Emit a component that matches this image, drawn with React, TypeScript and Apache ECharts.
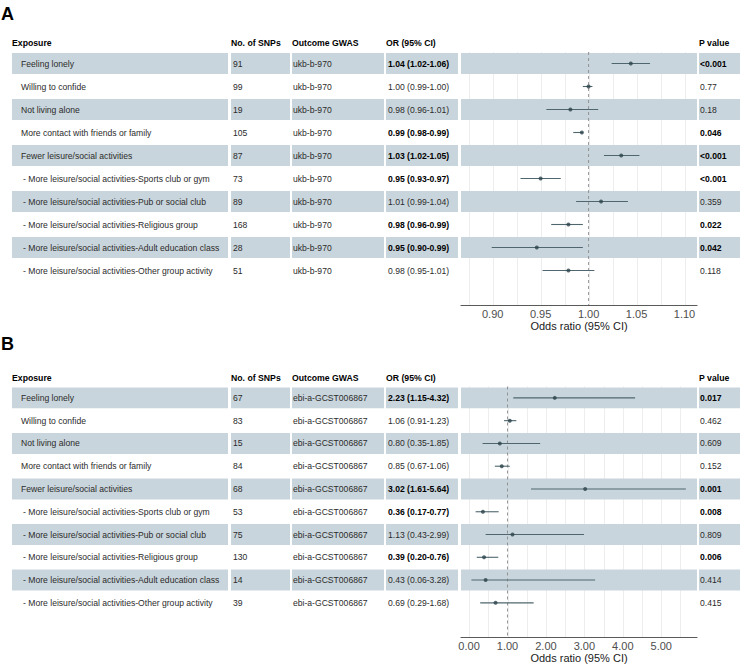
import React, { useEffect, useRef } from "react";
import * as echarts from "echarts";

// ---------- data ----------
const exposures = [
  "Feeling lonely",
  "Willing to confide",
  "Not living alone",
  "More contact with friends or family",
  "Fewer leisure/social activities",
  "- More leisure/social activities-Sports club or gym",
  "- More leisure/social activities-Pub or social club",
  "- More leisure/social activities-Religious group",
  "- More leisure/social activities-Adult education class",
  "- More leisure/social activities-Other group activity",
];
const headers = ["Exposure", "No. of SNPs", "Outcome GWAS", "OR (95% CI)", "P value"];

const snpsA = [91, 99, 19, 105, 87, 73, 89, 168, 28, 51];
const gwasA = "ukb-b-970";
const orA = [1.044, 1.0, 0.981, 0.993, 1.034, 0.95, 1.013, 0.979, 0.946, 0.979];
const lowA = [1.024, 0.994, 0.956, 0.984, 1.016, 0.929, 0.987, 0.961, 0.899, 0.952];
const highA = [1.064, 1.004, 1.01, 0.994, 1.053, 0.971, 1.041, 0.994, 0.994, 1.006];
const pA = ["<0.001", "0.77", "0.18", "0.046", "<0.001", "<0.001", "0.359", "0.022", "0.042", "0.118"];
const sigA = [true, false, false, true, true, true, false, true, true, false];
const gridTicksA = [0.875, 0.9, 0.925, 0.95, 0.975, 1.0, 1.025, 1.05, 1.075, 1.1];

const snpsB = [67, 83, 15, 84, 68, 53, 75, 130, 14, 39];
const gwasB = "ebi-a-GCST006867";
const orB = [2.23, 1.06, 0.8, 0.85, 3.02, 0.36, 1.13, 0.39, 0.43, 0.69];
const lowB = [1.15, 0.91, 0.35, 0.67, 1.61, 0.17, 0.43, 0.2, 0.06, 0.29];
const highB = [4.32, 1.23, 1.85, 1.06, 5.64, 0.77, 2.99, 0.76, 3.28, 1.68];
const pB = ["0.017", "0.462", "0.609", "0.152", "0.001", "0.008", "0.809", "0.006", "0.414", "0.415"];
const sigB = [true, false, false, false, true, true, false, true, false, false];
const gridTicksB = [0, 0.5, 1, 1.5, 2, 2.5, 3, 3.5, 4, 4.5, 5, 5.5];

// ---------- styling / layout ----------
const FONT = "'Liberation Sans', Arial, Helvetica, sans-serif";
const BAND = "#c9d5dc";
const TEXT = "#2b2b2b";
const cells = [
  { x0: 12, x1: 228 },
  { x0: 231, x1: 290 },
  { x0: 292, x1: 384 },
  { x0: 386, x1: 458 },
  { x0: 461, x1: 697 },
  { x0: 699, x1: 740 },
];
const headerX = [12, 231, 292, 386, 699];

type Panel = {
  snps: number[];
  gwas: string;
  or: number[];
  low: number[];
  high: number[];
  p: string[];
  sig: boolean[];
  ticks: number[];
  xmin: number;
  xmax: number;
  step: number;
  top: number;
  height: number;
};

function buildPanel(k: number, d: Panel) {
  const rows = d.or.map((_, i) => i);
  const grid = { left: 461, top: d.top, width: 236, height: d.height };
  const xAxis = {
    gridIndex: k,
    type: "value",
    min: d.xmin,
    max: d.xmax,
    splitNumber: 5,
    splitLine: { show: false },
    axisTick: { show: false },
    axisLine: { show: true, onZero: false, lineStyle: { color: "#5a5a5a", width: 1.2 } },
    axisLabel: {
      fontSize: 11,
      color: "#4d4d4d",
      fontFamily: FONT,
      margin: 3,
      formatter: (v: number) =>
        Math.abs(v / d.step - Math.round(v / d.step)) < 1e-6 ? v.toFixed(2) : "",
    },
    name: "Odds ratio (95% CI)",
    nameLocation: "middle",
    nameGap: 15,
    nameTextStyle: { fontSize: 11, color: "#1a1a1a", fontFamily: FONT },
  };
  const yAxis = {
    gridIndex: k,
    type: "value",
    inverse: true,
    min: -0.5,
    max: 10.5,
    show: false,
  };
  const common = { xAxisIndex: k, yAxisIndex: k, silent: true, animation: false };
  const series: any[] = [
    {
      ...common,
      type: "custom",
      z: 1,
      data: d.ticks.map((v) => [v, 0]),
      renderItem: (params: any, api: any) => {
        const x = Math.round(api.coord([api.value(0), 0])[0]) + 0.5;
        const cs = params.coordSys;
        return {
          type: "line",
          shape: { x1: x, y1: cs.y, x2: x, y2: cs.y + cs.height },
          style: { stroke: "#ebebeb", lineWidth: 0.9 },
        };
      },
    },
    {
      ...common,
      type: "custom",
      z: 2,
      clip: false,
      data: rows.filter((i) => i % 2 === 0).map((i) => [d.or[i], i]),
      renderItem: (params: any, api: any) => {
        const y = api.coord([api.value(0), api.value(1)])[1];
        const h = api.size([0, 1])[1] * 0.92;
        return {
          type: "group",
          children: cells.map((c) => ({
            type: "rect",
            shape: { x: c.x0, y: y - h / 2, width: c.x1 - c.x0, height: h },
            style: { fill: BAND },
          })),
        };
      },
    },
    {
      ...common,
      type: "custom",
      z: 3,
      clip: false,
      data: rows.map((i) => [d.or[i], i]),
      renderItem: (params: any, api: any) => {
        const i = params.dataIndex;
        const y = api.coord([api.value(0), api.value(1)])[1];
        const txt = (s: string, x: number, bold: boolean) => ({
          type: "text",
          x,
          y,
          style: {
            text: s,
            fill: bold ? "#000" : TEXT,
            fontSize: 8.6,
            fontFamily: FONT,
            fontWeight: bold ? "bold" : "normal",
            verticalAlign: "middle",
            align: "left",
          },
        });
        const lab = exposures[i];
        const orText = `${d.or[i].toFixed(2)} (${d.low[i].toFixed(2)}-${d.high[i].toFixed(2)})`;
        return {
          type: "group",
          children: [
            txt(lab, lab.startsWith("-") ? 23 : 21, false),
            txt(String(d.snps[i]), 233, false),
            txt(d.gwas, 293, false),
            txt(orText, 388, d.sig[i]),
            txt(d.p[i], 700, d.sig[i]),
          ],
        };
      },
    },
    {
      ...common,
      type: "custom",
      z: 3,
      data: [[1, 0]],
      renderItem: (params: any, api: any) => {
        const x = api.coord([api.value(0), 0])[0];
        const cs = params.coordSys;
        return {
          type: "line",
          shape: { x1: x, y1: cs.y, x2: x, y2: cs.y + cs.height },
          style: { stroke: "#8a8a8a", lineWidth: 0.9, lineDash: [3, 3] },
        };
      },
    },
    {
      ...common,
      type: "custom",
      z: 4,
      encode: { x: [0, 1], y: 2 },
      data: rows.map((i) => [d.low[i], d.high[i], i]),
      renderItem: (params: any, api: any) => {
        const p1 = api.coord([api.value(0), api.value(2)]);
        const p2 = api.coord([api.value(1), api.value(2)]);
        return {
          type: "line",
          shape: { x1: p1[0], y1: p1[1], x2: p2[0], y2: p2[1] },
          style: { stroke: "#4f666f", lineWidth: 1.1 },
        };
      },
    },
    {
      ...common,
      type: "scatter",
      z: 5,
      symbol: "circle",
      symbolSize: 4,
      itemStyle: { color: "#2c434b" },
      data: rows.map((i) => [d.or[i], i]),
    },
  ];
  return { grid, xAxis, yAxis, series };
}

export default function App() {
  const ref = useRef<HTMLDivElement>(null);
  useEffect(() => {
    document.body.style.margin = "0";
    if (!ref.current) return;
    const chart = echarts.init(ref.current, undefined, { renderer: "svg" });
    const pa = buildPanel(0, {
      snps: snpsA, gwas: gwasA, or: orA, low: lowA, high: highA, p: pA, sig: sigA,
      ticks: gridTicksA, xmin: 0.867, xmax: 1.113, step: 0.05, top: 52, height: 253,
    });
    const pb = buildPanel(1, {
      snps: snpsB, gwas: gwasB, or: orB, low: lowB, high: highB, p: pB, sig: sigB,
      ticks: gridTicksB, xmin: -0.21, xmax: 5.93, step: 1, top: 386.5, height: 250.5,
    });
    const headerTexts = (y: number) =>
      headers.map((h, j) => ({
        type: "text",
        x: headerX[j],
        y,
        style: {
          text: h,
          fill: "#000",
          fontSize: 8.7,
          fontWeight: "bold",
          fontFamily: FONT,
          verticalAlign: "middle",
          align: "left",
        },
      }));
    const letter = (t: string, y: number) => ({
      type: "text",
      x: 1,
      y,
      style: {
        text: t,
        fill: "#000",
        fontSize: 18,
        fontWeight: "bold",
        fontFamily: FONT,
        verticalAlign: "middle",
        align: "left",
      },
    });
    chart.setOption({
      animation: false,
      backgroundColor: "#ffffff",
      grid: [pa.grid, pb.grid],
      xAxis: [pa.xAxis, pb.xAxis],
      yAxis: [pa.yAxis, pb.yAxis],
      series: [...pa.series, ...pb.series],
      graphic: [
        letter("A", 14),
        letter("B", 344),
        ...headerTexts(43),
        ...headerTexts(377.5),
      ],
    });
    return () => chart.dispose();
  }, []);
  return <div ref={ref} style={{ width: 740, height: 664 }} />;
}
